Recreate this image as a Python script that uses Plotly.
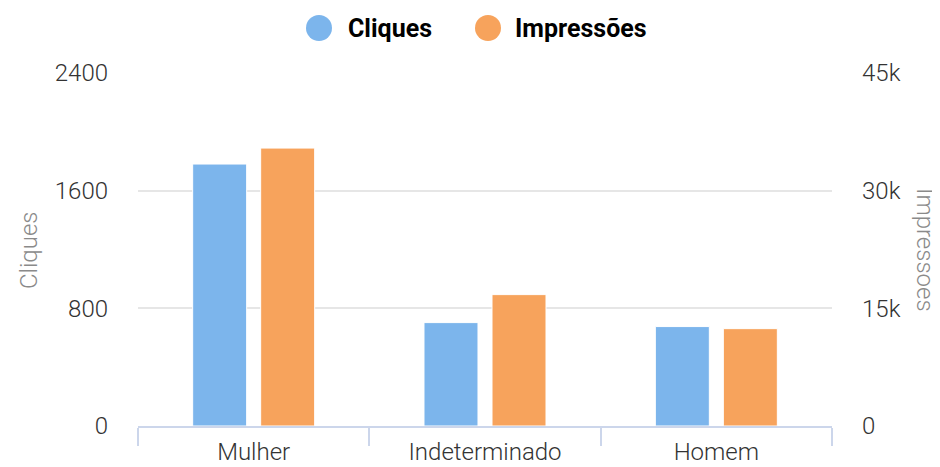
import plotly.graph_objects as go

categories = ["Mulher", "Indeterminado", "Homem"]
cliques = [1781, 703, 676]
impressoes = [35430, 16750, 12410]
series_names = ["Cliques", "Impressões"]
colors = ["#7cb5ec", "#f7a35c"]
left_ticks = [0, 800, 1600, 2400]
right_ticks = [0, 15000, 30000, 45000]
right_tick_text = ["0", "15k", "30k", "45k"]

# page body has an 8px margin, so the figure is drawn 8px smaller and coordinates shifted
OFF = 8
W, H = 940 - OFF, 467 - OFF
L, R, T, B = 138 - OFF, 940 - 832, 73 - OFF, 467 - 426
pw, ph = W - L - R, H - T - B

def px(x):
    return (x - OFF - L) / pw

def py(y):
    return (H - B - (y - OFF)) / ph

font_family = "Roboto"

fig = go.Figure()
fig.add_trace(go.Bar(
    x=categories, y=cliques, name=series_names[0], yaxis="y", offsetgroup="a",
    marker=dict(color=colors[0], line=dict(color="white", width=1)), showlegend=False,
))
fig.add_trace(go.Bar(
    x=categories, y=impressoes, name=series_names[1], yaxis="y2", offsetgroup="b",
    marker=dict(color=colors[1], line=dict(color="white", width=1)), showlegend=False,
))

# legend drawn with circles + bold labels
legend_circle_x = [319, 488]
legend_text_x = [346, 513]
legend_y = 28
for i in range(2):
    fig.add_shape(type="circle", xref="paper", yref="paper",
                  xsizemode="pixel", ysizemode="pixel",
                  xanchor=px(legend_circle_x[i]), yanchor=py(legend_y),
                  x0=-13, x1=13, y0=-13, y1=13,
                  fillcolor=colors[i], line=dict(width=0), layer="above")
    fig.add_annotation(text="<b>" + series_names[i] + "</b>", xref="paper", yref="paper",
                       x=px(legend_text_x[i]), y=py(legend_y), xanchor="left", yanchor="middle",
                       showarrow=False, font=dict(family=font_family, size=25, color="#000000"))

# axis titles
fig.add_annotation(text=series_names[0], xref="paper", yref="paper",
                   x=px(29), y=py(250), xanchor="center", yanchor="middle", textangle=-90,
                   showarrow=False, font=dict(family=font_family, size=24, color="#8a8a8a", weight=300))
fig.add_annotation(text=series_names[1], xref="paper", yref="paper",
                   x=px(925), y=py(250), xanchor="center", yanchor="middle", textangle=90,
                   showarrow=False, font=dict(family=font_family, size=24, color="#8a8a8a", weight=300))

tick_font = dict(family=font_family, size=24, color="#333333", weight=300)

fig.update_layout(
    width=W, height=H,
    margin=dict(l=L, r=R, t=T, b=B, pad=0, autoexpand=False),
    paper_bgcolor="white", plot_bgcolor="white",
    barmode="group", bargap=0.412, bargroupgap=0.206,
    showlegend=False,
    xaxis=dict(
        tickson="boundaries", ticks="outside", ticklen=18, tickwidth=1.5, tickcolor="#ccd6eb",
        showline=True, linecolor="#ccd6eb", linewidth=1.5, showgrid=False, automargin=False,
        tickfont=tick_font, zeroline=False, ticklabelstandoff=3,
    ),
    yaxis=dict(
        range=[0, 2400], tickvals=left_ticks, showgrid=True, gridcolor="#e6e6e6", gridwidth=1.5,
        zeroline=False, showline=False, ticks="", tickfont=tick_font, ticklabelstandoff=29,
        automargin=False,
    ),
    yaxis2=dict(
        range=[0, 45000], tickvals=right_ticks, ticktext=right_tick_text, overlaying="y", side="right",
        showgrid=False, zeroline=False, showline=False, ticks="", tickfont=tick_font, ticklabelstandoff=29,
        automargin=False,
    ),
)

fig.write_html("out.html")
